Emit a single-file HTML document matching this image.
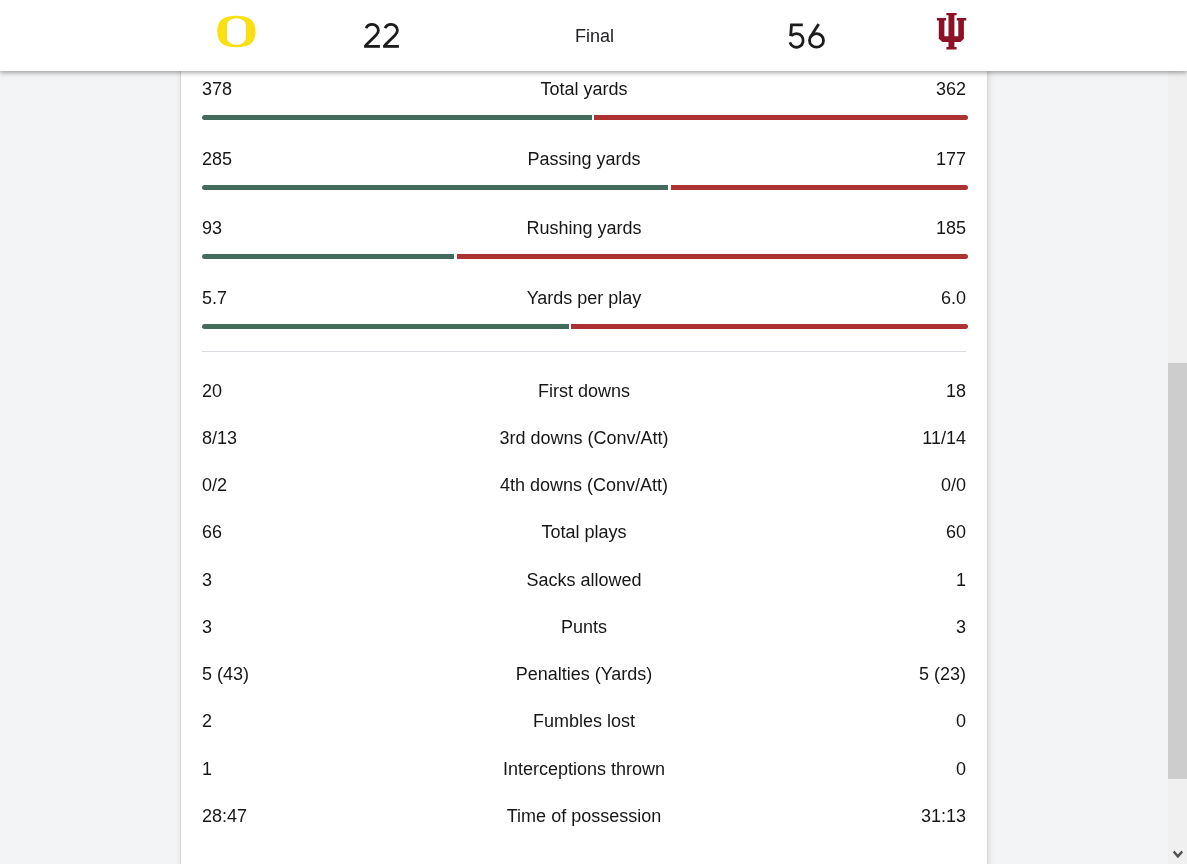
<!DOCTYPE html>
<html><head><meta charset="utf-8">
<style>
*{box-sizing:border-box;margin:0;padding:0}
html,body{width:1187px;height:864px;overflow:hidden;background:#f3f4f6;font-family:"Liberation Sans",sans-serif;color:#161616;-webkit-font-smoothing:antialiased}
#card{position:absolute;left:180px;top:-40px;width:808px;height:1000px;background:#fff;border:1px solid #d6d7da;box-shadow:1px 0 6px rgba(0,0,0,.11)}
.row{will-change:transform;position:absolute;left:202px;width:764px;height:20px;line-height:20px;font-size:18px}
.row .l{position:absolute;left:0;top:0}
.row .c{position:absolute;left:0;width:764px;top:0;text-align:center}
.row .r{position:absolute;right:0;top:0}
.bar{position:absolute;height:5px;border-radius:3px}
.g{background:#154733;opacity:.8;border-radius:2.5px 0 0 2.5px}
.rd{background:#990000;opacity:.8;border-radius:0 2.5px 2.5px 0}
#sep{position:absolute;left:202px;top:351px;width:764px;height:1px;background:#dcdde2}
#hdr{position:absolute;left:0;top:0;width:1187px;height:71px;background:#fff;box-shadow:0 2px 4px rgba(0,0,0,.28),0 2px 8px rgba(0,0,0,.07)}
#sb{position:absolute;left:1168px;top:0;width:19px;height:864px;background:#f0f0f0}
#thumb{position:absolute;left:1168px;top:363px;width:19px;height:416px;background:#cdcdcd}
#final{will-change:transform;position:absolute;top:25px;font-size:18px;line-height:22px;color:#202124}
</style></head><body>
<div id="card"></div>

<div class="row" style="top:79px"><span class="l">378</span><span class="c">Total yards</span><span class="r">362</span></div>
<div class="bar g" style="left:202px;top:115px;width:390px"></div>
<div class="bar rd" style="left:594px;top:115px;width:374px"></div>

<div class="row" style="top:149px"><span class="l">285</span><span class="c">Passing yards</span><span class="r">177</span></div>
<div class="bar g" style="left:202px;top:185px;width:466px"></div>
<div class="bar rd" style="left:671px;top:185px;width:297px"></div>

<div class="row" style="top:218px"><span class="l">93</span><span class="c">Rushing yards</span><span class="r">185</span></div>
<div class="bar g" style="left:202px;top:254px;width:252px"></div>
<div class="bar rd" style="left:457px;top:254px;width:511px"></div>

<div class="row" style="top:288px"><span class="l">5.7</span><span class="c">Yards per play</span><span class="r">6.0</span></div>
<div class="bar g" style="left:202px;top:324px;width:367px"></div>
<div class="bar rd" style="left:571px;top:324px;width:397px"></div>

<div id="sep"></div>

<div class="row" style="top:381px"><span class="l">20</span><span class="c">First downs</span><span class="r">18</span></div>
<div class="row" style="top:428px"><span class="l">8/13</span><span class="c">3rd downs (Conv/Att)</span><span class="r">11/14</span></div>
<div class="row" style="top:475px"><span class="l">0/2</span><span class="c">4th downs (Conv/Att)</span><span class="r">0/0</span></div>
<div class="row" style="top:522px"><span class="l">66</span><span class="c">Total plays</span><span class="r">60</span></div>
<div class="row" style="top:570px"><span class="l">3</span><span class="c">Sacks allowed</span><span class="r">1</span></div>
<div class="row" style="top:617px"><span class="l">3</span><span class="c">Punts</span><span class="r">3</span></div>
<div class="row" style="top:664px"><span class="l">5 (43)</span><span class="c">Penalties (Yards)</span><span class="r">5 (23)</span></div>
<div class="row" style="top:711px"><span class="l">2</span><span class="c">Fumbles lost</span><span class="r">0</span></div>
<div class="row" style="top:759px"><span class="l">1</span><span class="c">Interceptions thrown</span><span class="r">0</span></div>
<div class="row" style="top:806px"><span class="l">28:47</span><span class="c">Time of possession</span><span class="r">31:13</span></div>

<div id="sb"></div>
<div id="thumb"></div>
<svg style="position:absolute;left:1168px;top:840px" width="19" height="24" viewBox="1168 840 19 24"><path d="M1172.9,852.6L1174.4,850.6L1177.9,854.6L1181.5,850.6L1183,852.6L1177.9,858.3Z" fill="#505050"/></svg>

<div id="hdr">
  <svg style="position:absolute;left:210px;top:10px" width="54" height="44" viewBox="210 10 54 44">
    <path fill-rule="evenodd" fill="#fadf12" d="M236.45,15.7C249.85,15.7 255.6,20.43 255.6,31.45C255.6,42.47 249.85,47.2 236.45,47.2C223.04,47.2 217.3,42.47 217.3,31.45C217.3,20.43 223.04,15.7 236.45,15.7Z M227,25C227,21.25 231.23,18.2 236.45,18.2C241.67,18.2 245.9,21.25 245.9,25L245.9,38C245.9,41.75 241.67,44.8 236.45,44.8C231.23,44.8 227,41.75 227,38Z"/>
  </svg>
  <svg style="position:absolute;left:0;top:0" width="1187" height="71" viewBox="0 0 1187 71"><g fill="none" stroke="#1c1c1c" stroke-width="2.8"><path d="M366.0,28.1C367.2,25.7 369.5,24.4 372.1,24.4C375.6,24.4 378.4,27 378.4,30.3C378.4,32.3 377.5,33.7 376.0,35.2L365.6,45.6"/><rect fill="#1c1c1c" stroke="none" x="364.1" y="45" width="15.8" height="2.8"/><path d="M385.0,28.1C386.2,25.7 388.5,24.4 391.1,24.4C394.6,24.4 397.4,27 397.4,30.3C397.4,32.3 396.5,33.7 395.0,35.2L384.6,45.6"/><rect fill="#1c1c1c" stroke="none" x="383.1" y="45" width="15.8" height="2.8"/><path d="M802.8,24.85H791.5L790.6,36.2"/><path d="M791.3,35.9A6.8,6.8 0 1 1 789.9,42.4"/><path d="M818.7,23.9L810.5,37"/><ellipse cx="816.5" cy="40.4" rx="7" ry="6.75"/></g></svg>
  <div id="final" style="left:575px">Final</div>
  <svg style="position:absolute;left:930px;top:8px" width="42" height="46" viewBox="930 8 42 46">
    <path fill="#8c1127" d="M946.4,12.9H956.6V15.35H954.4V36.2H958.3V20.45H956.8V18H966.3V20.45H963.9V38.7L960.5,42.1H954.4V46.9H956.6V49.6H946.4V46.9H948.5V42.1H942.5L938.8,38.7V20.45H936.9V18H946.1V20.45H944.4V36.2H948.5V15.35H946.4Z"/>
  </svg>
</div>
</body></html>
